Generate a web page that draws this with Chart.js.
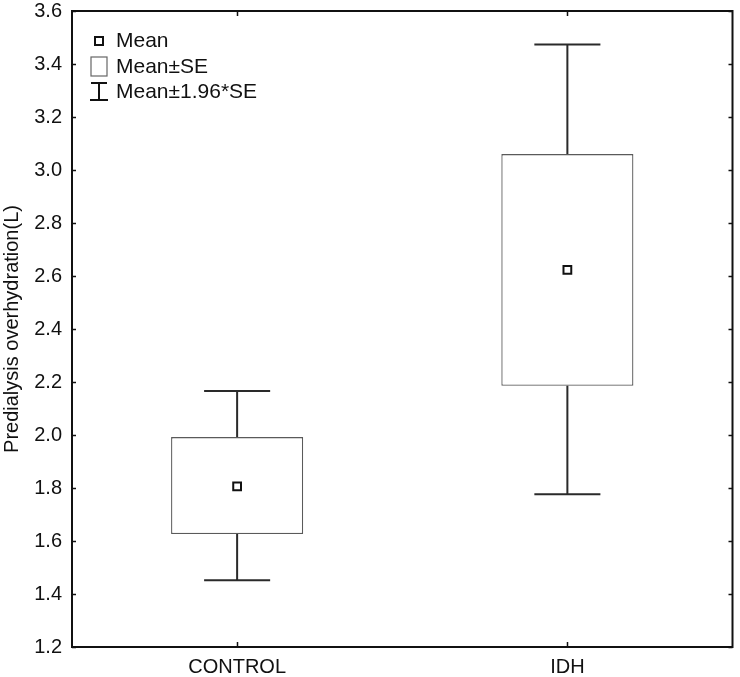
<!DOCTYPE html>
<html>
<head>
<meta charset="utf-8">
<script src="https://cdn.jsdelivr.net/npm/chart.js@4.4.1/dist/chart.umd.min.js"></script>
<style>
  html, body { margin: 0; padding: 0; background: #fff; }
  #wrap { width: 740px; height: 677px; }
</style>
</head>
<body>
<div id="wrap"><canvas id="c" width="740" height="677"></canvas></div>
<script>
const categories = ['CONTROL', 'IDH'];
const means  = [1.806, 2.623];
const seLow  = [1.626, 2.186];
const seHigh = [1.992, 3.060];
const ciLow  = [1.452, 1.776];
const ciHigh = [2.166, 3.474];
const yMin = 1.2, yMax = 3.6, yStep = 0.2;
const legendLabels = ['Mean', 'Mean±SE', 'Mean±1.96*SE'];
const yTitle = 'Predialysis overhydration(L)';

const FONT = "'Liberation Sans', Arial, sans-serif";
const FS = 20;
const LFS = 21;
const INK = '#111111';

const framePlugin = {
  id: 'frame',
  afterDatasetsDraw(chart) {
    const ctx = chart.ctx, a = chart.chartArea;
    const y = chart.scales.y, x = chart.scales.x;
    const boxMeta = chart.getDatasetMeta(0);
    ctx.save();
    // whiskers
    ctx.strokeStyle = '#2a2a2a';
    ctx.lineWidth = 2;
    boxMeta.data.forEach((bar, i) => {
      const cx = bar.x;
      const capHalf = bar.width / 4;
      const yTop = y.getPixelForValue(ciHigh[i]);
      const yBot = y.getPixelForValue(ciLow[i]);
      const yBoxTop = y.getPixelForValue(seHigh[i]);
      const yBoxBot = y.getPixelForValue(seLow[i]);
      ctx.beginPath();
      ctx.moveTo(cx, yBoxTop); ctx.lineTo(cx, yTop);
      ctx.moveTo(cx - capHalf, yTop); ctx.lineTo(cx + capHalf, yTop);
      ctx.moveTo(cx, yBoxBot); ctx.lineTo(cx, yBot);
      ctx.moveTo(cx - capHalf, yBot); ctx.lineTo(cx + capHalf, yBot);
      ctx.stroke();
    });
    // frame
    ctx.strokeStyle = INK;
    ctx.lineWidth = 2;
    ctx.strokeRect(a.left, a.top, a.right - a.left, a.bottom - a.top);
    // inward ticks
    ctx.lineWidth = 1.5;
    ctx.beginPath();
    y.ticks.forEach(t => {
      const py = Math.round(y.getPixelForValue(t.value)) + 0.5;
      ctx.moveTo(a.left, py); ctx.lineTo(a.left + 4, py);
      ctx.moveTo(a.right, py); ctx.lineTo(a.right - 4, py);
    });
    categories.forEach((c, i) => {
      const px = Math.round(x.getPixelForValue(i)) + 0.5;
      ctx.moveTo(px, a.bottom); ctx.lineTo(px, a.bottom - 5);
      ctx.moveTo(px, a.top); ctx.lineTo(px, a.top + 5);
    });
    ctx.stroke();
    // legend
    ctx.font = LFS + 'px ' + FONT;
    ctx.textBaseline = 'middle';
    ctx.textAlign = 'left';
    const lx = a.left + 27, tx = a.left + 44;
    // mean marker
    ctx.strokeStyle = INK; ctx.lineWidth = 2;
    ctx.fillStyle = '#fff';
    ctx.fillRect(lx - 4, 37, 8, 8);
    ctx.strokeRect(lx - 4, 37, 8, 8);
    // SE box
    ctx.strokeStyle = '#666'; ctx.lineWidth = 1.2;
    ctx.strokeRect(lx - 8, 57, 16, 19);
    // whisker icon
    ctx.strokeStyle = INK; ctx.lineWidth = 2;
    ctx.beginPath();
    ctx.moveTo(lx - 8, 83); ctx.lineTo(lx + 8, 83);
    ctx.moveTo(lx, 83); ctx.lineTo(lx, 100);
    ctx.moveTo(lx - 9, 100); ctx.lineTo(lx + 9, 100);
    ctx.stroke();
    ctx.fillStyle = INK;
    ctx.fillText(legendLabels[0], tx, 41);
    ctx.fillText(legendLabels[1], tx, 67);
    ctx.fillText(legendLabels[2], tx, 92);
    ctx.restore();
  }
};

new Chart(document.getElementById('c'), {
  data: {
    labels: categories,
    datasets: [
      {
        type: 'bar',
        data: seLow.map((v, i) => [v, seHigh[i]]),
        backgroundColor: '#ffffff',
        borderColor: '#5a5a5a',
        borderWidth: 1.3,
        borderSkipped: false,
        categoryPercentage: 1.0,
        barPercentage: 0.4,
        order: 2
      },
      {
        type: 'line',
        data: means,
        showLine: false,
        pointStyle: 'rect',
        pointRadius: 5.5,
        pointBorderWidth: 2,
        pointBackgroundColor: '#ffffff',
        pointBorderColor: INK,
        order: 1
      }
    ]
  },
  options: {
    responsive: false,
    animation: false,
    devicePixelRatio: 1,
    layout: { padding: { top: 11, right: 3, left: 0, bottom: 0 } },
    plugins: { legend: { display: false }, tooltip: { enabled: false } },
    scales: {
      x: {
        type: 'category',
        offset: true,
        grid: { display: false, drawTicks: false },
        border: { display: false },
        ticks: { color: INK, font: { family: FONT, size: FS }, padding: 8, maxRotation: 0 },
        afterFit(s) { s.height = 30; s.paddingLeft = 0; s.paddingRight = 0; }
      },
      y: {
        min: yMin, max: yMax,
        grid: { display: false, drawTicks: false },
        border: { display: false },
        ticks: {
          stepSize: yStep,
          color: INK,
          font: { family: FONT, size: FS },
          padding: 10,
          callback: v => Number(v).toFixed(1)
        },
        title: {
          display: true,
          text: yTitle,
          color: INK,
          font: { family: FONT, size: FS },
          padding: { top: 0, bottom: 0 }
        },
        afterFit(s) { s.width = 72; s.paddingTop = 0; s.paddingBottom = 0; }
      }
    }
  },
  plugins: [framePlugin]
});
</script>
</body>
</html>
